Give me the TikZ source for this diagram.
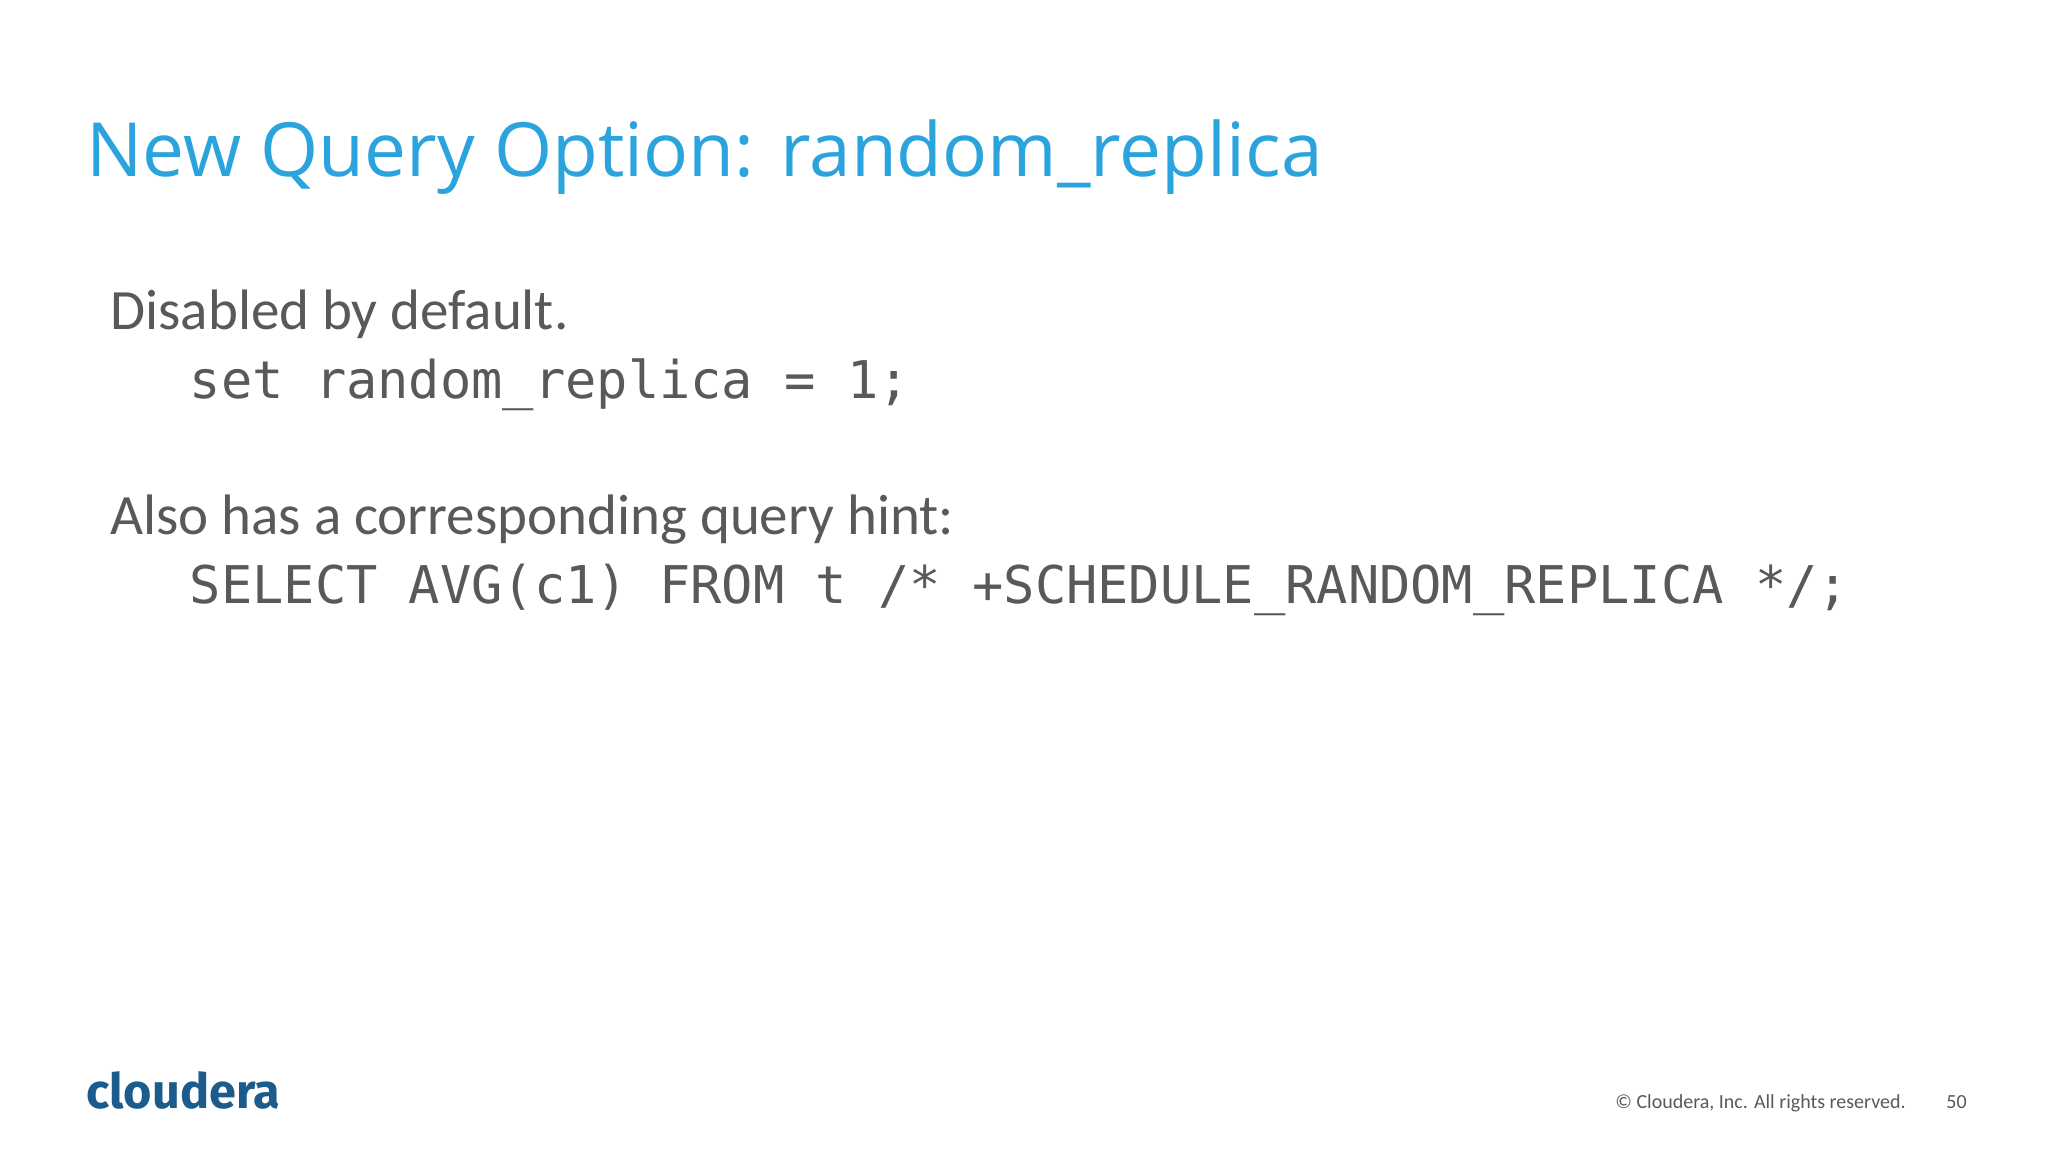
\documentclass[tikz,border=0pt]{standalone}
\usepackage{fontspec}
\setmainfont[Ligatures=NoCommon]{Carlito}
\newfontfamily\monof{DejaVu Sans Mono}
\newfontfamily\titlef{Open Sans}
\newfontfamily\logof{Fira Sans}
\definecolor{titleblue}{HTML}{2BA3DC}
\definecolor{bodygray}{HTML}{595959}
\definecolor{logoblue}{HTML}{1B5C8C}
\newcommand{\us}{\string_}
\begin{document}
\begin{tikzpicture}[x=1pt,y=1pt,
  txt/.style={anchor=base west,inner sep=0pt,text=bodygray}]
\useasboundingbox[fill=white] (0,0) rectangle (1024,-576);
\node[txt,text=titleblue,font=\titlef] (title) at (43,-88) {\resizebox{618pt}{!}{New Query Option: random\_replica}};
\node[txt,font=\fontsize{28.5}{32}\selectfont] (l1) at (55,-164.6) {Disabled by default.};
\node[txt,font=\monof\fontsize{26}{30}\selectfont] (l2) at (94.7,-199) {set random\us replica = 1;};
\node[txt,font=\fontsize{28.5}{32}\selectfont] (l3) at (55,-267) {Also has a corresponding query hint:};
\node[txt,font=\monof\fontsize{26}{30}\selectfont] (l4) at (94.7,-301.7) {SELECT AVG(c1) FROM t /* +SCHEDULE\us RANDOM\us REPLICA */;};
\node[txt,text=logoblue,font=\logof\bfseries] (logo) at (43,-554) {\resizebox{97pt}{!}{cloudera}};
\node[txt,anchor=base east,font=\fontsize{10}{12}\selectfont] (copy) at (953,-554) {© Cloudera, Inc. All rights reserved.};
\node[txt,font=\fontsize{10}{12}\selectfont] (page) at (973,-554) {50};
\end{tikzpicture}
\end{document}
